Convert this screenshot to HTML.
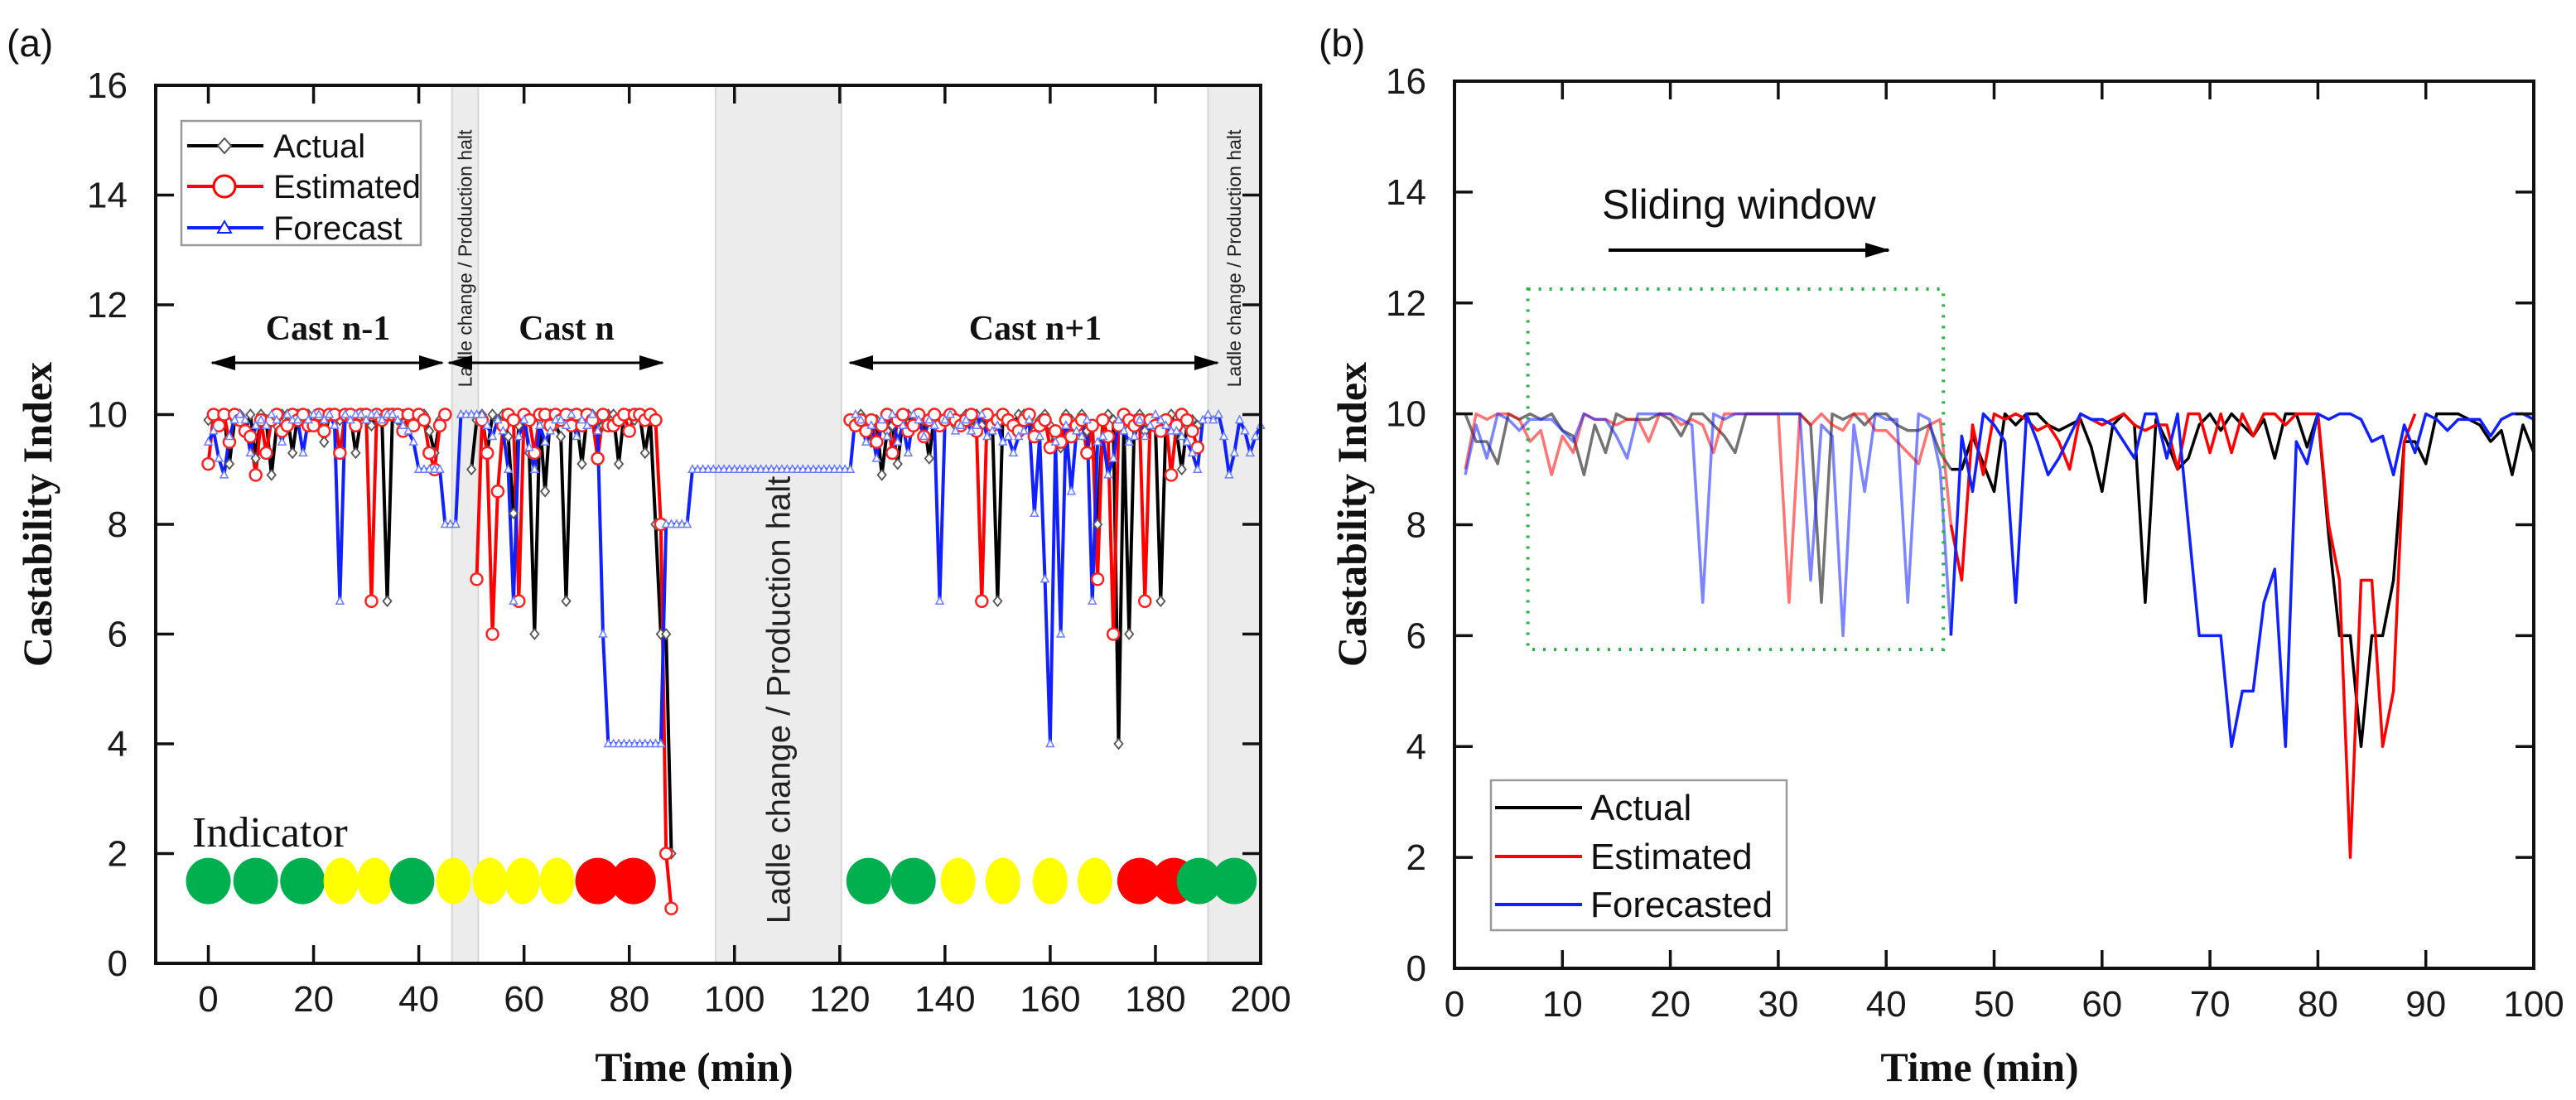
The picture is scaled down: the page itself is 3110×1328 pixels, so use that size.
<!DOCTYPE html>
<html><head><meta charset="utf-8"><style>
html,body{margin:0;padding:0;background:#fff;}
svg{display:block;}
text{font-family:"Liberation Sans",Arial,sans-serif;}
.serif{font-family:"Liberation Serif","Times New Roman",serif;}
</style></head><body>
<svg id="chart" xmlns="http://www.w3.org/2000/svg" width="3110" height="1328" viewBox="0 0 3110 1328">
<rect width="3110" height="1328" fill="#fff"/>
<g id="panelA"></g>
<g id="panelB"></g>
</svg>
<script>
// ---------- Panel (a) data ----------
const yTicks = [0,2,4,6,8,10,12,14,16];
const xTicksA = [0,20,40,60,80,100,120,140,160,180,200];
const xTicksB = [0,10,20,30,40,50,60,70,80,90,100];
const actualA1Start = 0;
const actualA1 = [9.9,10,9.8,10,9.1,9.9,10,9.7,10,9.2, 10,9.9,8.9,9.8,10,10,9.3,10,9.9,10, 9.8,10,9.5,10,10,9.9,10,10,9.3,9.9, 10,9.8,10,9.9,6.6,10,9.9,10,10,9.8, 10,10,9.7,9.3,9.9,null,null,null,null,null, 9.0,9.9,10,9.3,10,9.9,10,9.6,8.2,9.8, 10,9.3,6.0,9.9,8.6,10,9.8,9.6,6.6,10, 9.9,9.1,10,10,9.9,9.8,10,10,9.1,10, 10,9.9,10,9.3,9.9,8.0,6.0,6.0,2.0];
const estimatedA1Start = 0;
const estimatedA1 = [9.1,10,9.8,10,9.5,10,9.9,9.7,9.6,8.9, 9.9,9.3,9.9,10,9.7,9.8,10,9.9,10,9.8, 9.8,10,9.7,10,10,9.3,10,10,9.8,10, 10,6.6,10,9.9,10,10,10,9.7,10,9.8, 10,9.9,9.3,9.0,9.8,10,null,null,null,null, null,7.0,9.9,9.3,6.0,8.6,9.8,10,9.9,6.6, 10,9.9,9.3,10,10,9.8,10,9.9,10,9.8, 10,9.8,10,9.9,9.2,10,9.8,9.8,9.9,10, 9.7,10,10,9.9,10,9.9,8.0,2.0,1.0];
const actualA2Start = 122;
const actualA2 = [9.9,9.8,10,9.7,9.5,9.9,8.9,9.7,9.8,9.1, 9.9,10,9.8,10,9.9,9.2,10,9.8,9.9,10, 9.8,9.9,10,9.9,10,9.8,10,9.9,6.6,10, 9.9,9.8,10,10,9.9,9.7,9.9,10,9.8,9.6, 9.4,10,9.9,9.8,10,9.7,9.8,8.0,9.9,10, 9.9,4.0,9.8,6.0,9.9,10,9.7,9.9,9.8,6.6, 9.9,10,9.7,9.0,9.8,9.9,9.8];
const estimatedA2Start = 122;
const estimatedA2 = [9.9,9.8,9.9,9.7,9.9,9.5,9.8,10,9.3,9.9, 10,9.7,9.8,10,9.6,9.9,10,9.8,9.9,10, 9.9,9.8,9.9,10,9.7,6.6,10,9.8,9.9,10, 9.9,9.8,9.7,9.9,10,9.6,9.8,9.9,9.4,9.7, 9.5,9.9,9.6,9.8,9.9,9.3,9.8,7.0,9.9,9.6, 6.0,9.8,10,9.9,9.8,9.9,6.6,9.9,9.8,9.7, 9.9,8.9,9.8,10,9.9,9.7,9.4];
const forecastAStart = 0;
const forecastA = [9.5,9.7,9.2,8.9,9.6,9.9,10,9.9,9.3,9.8, 9.9,9.8,10,9.9,9.5,10,9.9,9.9,9.3,9.9, 10,10,9.9,10,9.8,6.6,10,9.9,10,10, 9.9,10,10,9.9,10,10,9.9,9.8,9.7,9.5, 9,9,9,9,9,8,8,8,10,10, 10,10,10,9.8,9.6,9.9,9.7,9.0,6.6,9.6, 9.9,9.4,9.0,9.8,9.5,9.7,9.9,9.9,9.8,10, 9.6,9.9,9.8,10,9.7,6.0,4,4,4,4, 4,4,4,4,4,4,4,8,8,8, 8,8,9,9,9,9,9,9,9,9, 9,9,9,9,9,9,9,9,9,9, 9,9,9,9,9,9,9,9,9,9, 9,9,9,10,9.9,9.5,9.8,9.2,9.9,9.6, 10,9.5,9.8,9.3,10,9.9,9.6,9.9,9.8,6.6, 9.9,10,9.7,9.8,9.9,9.7,9.8,10,9.6,9.7, 9.8,9.5,9.6,9.3,9.6,9.7,9.9,8.2,9.6,7.0, 4.0,9.5,6.0,9.8,8.6,9.7,9.6,9.9,6.6,9.5, 9.6,8.9,9.2,9.9,9.7,9.5,9.6,9.9,9.6,9.8, 10,9.9,9.8,9.7,9.7,9.6,9.5,9.3,9.0,9.9, 10,9.9,10,9.6,8.9,9.3,9.9,9.7,9.3,9.6,9.8];
const indicatorTimes = [0,9,17.9,25.2,31.6,38.7,46.6,53.5,59.7,66.3,74,80.8, 125.5,134,142.5,151,160,168.5,177,183.5,188.3,195];
const indicatorColors = ["g","g","g","y","y","g","y","y","y","y","r","r", "g","g","y","y","y","y","r","r","g","g"];
const haltBands = [[46.3,51.3],[96.4,120.3],[190,200]];

// ---------- Panel (b) data (t = 1..100) ----------
const actualB = [10,9.5,9.5,9.1,10,9.9,10,9.9,10,9.7, 9.6,8.9,9.8,9.3,10,9.9,9.9,9.9,10,9.9, 9.6,10,10,9.8,9.6,9.3,10,10,10,10, 10,10,9.8,6.6,10,9.9,10,9.8,10,10, 9.8,9.7,9.7,9.8,9.3,9.0,9.0,9.6,9.1,8.6, 10,9.8,10,10,9.8,9.7,9.8,9.9,9.4,8.6, 9.8,10,9.8,6.6,9.9,9.5,9.0,9.2,9.8,10, 9.7,10,9.8,9.6,9.9,9.2,10,10,9.4,10, 7.8,6,6,4,6,6,7,9.5,9.5,9.1, 10,10,10,9.9,9.8,9.5,9.7,8.9,9.8,9.3];
const estimatedB = [9.0,10,9.9,10,10,9.9,9.5,9.7,8.9,9.6, 9.3,10,9.9,9.9,9.8,9.9,9.9,9.5,10,10, 9.8,9.9,9.8,9.3,10,10,10,10,10,10, 6.6,10,9.8,10,9.8,9.7,10,10,9.7,9.7, 9.5,9.3,9.1,9.8,9.9,8.0,7.0,9.8,8.9,10, 9.9,10,9.9,9.7,9.8,9.5,9.0,10,9.9,9.8, 9.9,10,9.8,9.7,9.8,9.8,9.0,10,10,9.3, 10,9.3,10,9.6,10,10,9.8,10,10,10, 8,7,2,7,7,4,5,9.5,10,null, null,null,null,null,null,null,null,null,null,null];
const forecastB = [8.9,9.8,9.2,10,9.9,9.7,9.9,9.9,9.9,9.7, 9.5,10,9.9,9.9,9.6,9.2,10,10,10,10, 9.9,9.8,6.6,10,9.9,10,10,10,10,10, 10,10,7.0,9.8,9.6,6.0,9.8,8.6,10,9.9, 9.9,6.6,10,9.9,9.0,6.0,9.6,8.6,10,9.8, 9.5,6.6,10,9.5,8.9,9.2,9.6,10,9.9,9.9, 9.8,9.5,9.2,10,10,9.2,10,8.0,6,6, 6,4,5,5,6.6,7.2,4,9.5,9.1,10, 9.9,10,10,9.9,9.5,9.6,8.9,9.8,9.3,10, 9.9,9.7,9.9,9.9,9.9,9.6,9.9,10,10,9.9];
const windowEnd = 46;

// ---------- geometry ----------
const NS = "http://www.w3.org/2000/svg";
const A = {x0:188, x1:1522, y0:1163, y1:103, tmin:-10, tmax:200};
const B = {x0:1756, x1:3059, y0:1169, y1:98, tmin:0, tmax:100};
function sx(P,t){return P.x0 + (t-P.tmin)/(P.tmax-P.tmin)*(P.x1-P.x0);}
function sy(P,v){return P.y0 - v/16*(P.y0-P.y1);}
function mk(tag, attrs, parent){const e=document.createElementNS(NS,tag);for(const k in attrs)e.setAttribute(k,attrs[k]);parent.appendChild(e);return e;}
const gA = document.getElementById('panelA');
const gB = document.getElementById('panelB');
const COL = {g:"#00b04f", y:"#ffff00", r:"#ff0000"};

function axes(P, g, xt, label, lx){
  const frame = mk('rect',{x:P.x0,y:P.y1,width:P.x1-P.x0,height:P.y0-P.y1,fill:'none',stroke:'#111','stroke-width':4},g);
  
  
  yTicks.forEach(v=>{
    const y=sy(P,v);
    if(v>0&&v<16){
      const t1=mk('line',{x1:P.x0,x2:P.x0+22,y1:y,y2:y,stroke:'#111','stroke-width':3.5},g);
      
      
      const t2=mk('line',{x1:P.x1,x2:P.x1-22,y1:y,y2:y,stroke:'#111','stroke-width':3.5},g);
      
      
    }
    const tl=mk('text',{x:P.x0-34,y:y+15,'text-anchor':'end','font-size':44,fill:'#1a1a1a'},g);
    tl.textContent=v;
    
    
  });
  xt.forEach(v=>{
    const x=sx(P,v);
    if(v>P.tmin&&v<P.tmax){
      const t1=mk('line',{x1:x,x2:x,y1:P.y0,y2:P.y0-22,stroke:'#111','stroke-width':3.5},g);
      
      
      const t2=mk('line',{x1:x,x2:x,y1:P.y1,y2:P.y1+22,stroke:'#111','stroke-width':3.5},g);
      
      
    }
    const tl=mk('text',{x:x,y:P.y0+58,'text-anchor':'middle','font-size':44,fill:'#1a1a1a'},g);
    tl.textContent=v;
    
    
  });
  const xl=mk('text',{x:lx,y:1305,'text-anchor':'middle','font-size':50,'font-weight':'bold',class:'serif',fill:'#111'},g);
  xl.textContent='Time (min)';
  
  
  const yx = label;
  const yl=mk('text',{x:0,y:0,'text-anchor':'middle','font-size':50,'font-weight':'bold',class:'serif',fill:'#111',transform:`translate(${yx},621) rotate(-90)`},g);
  yl.textContent='Castability Index';
  
  
}

function segs(P, start, vals, from, to){
  const out=[];let cur=[];
  vals.forEach((v,i)=>{
    const t=start+i;
    if(v===null||t<from||t>to){if(cur.length)out.push(cur);cur=[];return;}
    cur.push([sx(P,t),sy(P,v)]);
  });
  if(cur.length)out.push(cur);
  return out;
}
function drawLine(P,g,start,vals,color,w,name,from,to,opacity){
  segs(P,start,vals,from,to).forEach(s=>{
    const p=mk('polyline',{points:s.map(q=>q.join(',')).join(' '),fill:'none',stroke:color,'stroke-width':w,'stroke-linejoin':'round',opacity:opacity},g);
    
    
  });
}
function drawMarkers(P,g,start,vals,kind,name){
  vals.forEach((v,i)=>{
    if(v===null)return;
    const x=sx(P,start+i),y=sy(P,v);let m;
    if(kind==='d')m=mk('path',{d:`M${x},${y-6}L${x+5},${y}L${x},${y+6}L${x-5},${y}Z`,fill:'#fff',stroke:'#555','stroke-width':1.8},g);
    else if(kind==='o')m=mk('circle',{cx:x,cy:y,r:7,fill:'#fff',stroke:'#ff2020','stroke-width':2.5},g);
    else m=mk('path',{d:`M${x},${y-5}L${x+4.5},${y+3.5}L${x-4.5},${y+3.5}Z`,fill:'#fff',stroke:'#6a7dff','stroke-width':1.5},g);
    
    
  });
}

// ---------- Panel A ----------
haltBands.forEach(b=>{
  const r=mk('rect',{x:sx(A,b[0]),y:A.y1,width:sx(A,b[1])-sx(A,b[0]),height:A.y0-A.y1,fill:'#ececec',stroke:'#d6d6d6','stroke-width':2},gA);
  
  
});
function rotText(g,x,y,s,size,name){
  const t=mk('text',{x:0,y:0,'text-anchor':'middle','font-size':size,fill:'#222',transform:`translate(${x},${y}) rotate(-90)`},g);
  t.textContent=s;
  
  
}
rotText(gA,sx(A,48.8)+8,312,'Ladle change / Production halt',23,'halt-label-1');
rotText(gA,sx(A,108.3)+14,845,'Ladle change / Production halt',40,'halt-label-2');
rotText(gA,sx(A,195)+8,312,'Ladle change / Production halt',23,'halt-label-3');

drawLine(A,gA,actualA1Start,actualA1,'#000',4,'actual-line-a',-99,999,1);
drawLine(A,gA,actualA2Start,actualA2,'#000',4,'actual-line-a',-99,999,1);
drawLine(A,gA,estimatedA1Start,estimatedA1,'#ff0000',4,'estimated-line-a',-99,999,1);
drawLine(A,gA,estimatedA2Start,estimatedA2,'#ff0000',4,'estimated-line-a',-99,999,1);
drawLine(A,gA,forecastAStart,forecastA,'#1020ff',4,'forecast-line-a',-99,999,1);
drawMarkers(A,gA,actualA1Start,actualA1,'d','actual-marker');
drawMarkers(A,gA,actualA2Start,actualA2,'d','actual-marker');
drawMarkers(A,gA,estimatedA1Start,estimatedA1,'o','estimated-marker');
drawMarkers(A,gA,estimatedA2Start,estimatedA2,'o','estimated-marker');
drawMarkers(A,gA,forecastAStart,forecastA,'t','forecast-marker');

indicatorTimes.forEach((t,i)=>{
  const c=indicatorColors[i];
  const e=mk('ellipse',{cx:sx(A,t),cy:sy(A,1.5),rx:c==='y'?21:27,ry:28,fill:COL[c]},gA);
  
  
});
const ind=mk('text',{x:232,y:1022,'font-size':52,class:'serif',fill:'#111'},gA);
ind.textContent='Indicator';



mk('defs',{},gA).innerHTML='<marker id="ah2" markerWidth="30" markerHeight="18" refX="28" refY="9" orient="auto-start-reverse" markerUnits="userSpaceOnUse" viewBox="0 0 30 18"><path d="M0,0L30,9L0,18Z" fill="#000"/></marker>';
function castArrow(x1,x2,label,lx){
  const l=mk('line',{x1:x1,x2:x2,y1:438,y2:438,stroke:'#000','stroke-width':3,'marker-start':'url(#ah2)','marker-end':'url(#ah2)'},gA);
  
  
  const t=mk('text',{x:lx,y:410,'text-anchor':'middle','font-size':42,'font-weight':'bold',class:'serif',fill:'#111'},gA);
  t.textContent=label;
  
  
}
castArrow(256,534,'Cast n-1',396);
castArrow(542,800,'Cast n',684);
castArrow(1026,1470,'Cast n+1',1250);

// legend a
const lgA=mk('g',{},gA);


mk('rect',{x:219,y:146,width:289,height:150,fill:'#fff',stroke:'#999','stroke-width':2.5},lgA);
[['Actual','#000','d',176],['Estimated','#ff0000','o',225],['Forecast','#1020ff','t',275]].forEach(e=>{
  const gg=mk('g',{},lgA);
  
  
  mk('line',{x1:226,x2:318,y1:e[3],y2:e[3],stroke:e[1],'stroke-width':4},gg);
  const cx=271,cy=e[3];
  if(e[2]==='d')mk('path',{d:`M${cx},${cy-9}L${cx+8},${cy}L${cx},${cy+9}L${cx-8},${cy}Z`,fill:'#fff',stroke:'#555','stroke-width':2},gg);
  else if(e[2]==='o')mk('circle',{cx:cx,cy:cy,r:13,fill:'#fff',stroke:'#ff0000','stroke-width':3},gg);
  else mk('path',{d:`M${cx},${cy-8}L${cx+8},${cy+6}L${cx-8},${cy+6}Z`,fill:'#fff',stroke:'#1020ff','stroke-width':2},gg);
  const t=mk('text',{x:330,y:e[3]+14,'font-size':40,fill:'#111'},gg);
  t.textContent=e[0];
});

axes(A,gA,xTicksA,62,838);
const la=mk('text',{x:8,y:68,'font-size':46,fill:'#111'},gA);
la.textContent='(a)';



// ---------- Panel B ----------
drawLine(B,gB,1,actualB,'#000',3.5,'actual-line-b-window',0,windowEnd,0.55);
drawLine(B,gB,1,estimatedB,'#ff0000',3.5,'estimated-line-b-window',0,windowEnd,0.55);
drawLine(B,gB,1,forecastB,'#1020ff',3.5,'forecast-line-b-window',0,windowEnd,0.55);
drawLine(B,gB,1,actualB,'#000',3.5,'actual-line-b',windowEnd,999,1);
drawLine(B,gB,1,estimatedB,'#ff0000',3.5,'estimated-line-b',windowEnd,999,1);
drawLine(B,gB,1,forecastB,'#1020ff',3.5,'forecast-line-b',windowEnd,999,1);

const win=mk('rect',{x:sx(B,6.8),y:sy(B,12.25),width:sx(B,45.3)-sx(B,6.8),height:sy(B,5.75)-sy(B,12.25),fill:'none',stroke:'#2ab24a','stroke-width':4,'stroke-dasharray':'3,10'},gB);


const sw=mk('text',{x:1934,y:264,'font-size':50,fill:'#111'},gB);
sw.textContent='Sliding window';


const swa=mk('line',{x1:1942,x2:2280,y1:302,y2:302,stroke:'#000','stroke-width':4,'marker-end':'url(#ah2)'},gB);



const lgB=mk('g',{},gB);


mk('rect',{x:1800,y:942,width:357,height:181,fill:'#fff',stroke:'#999','stroke-width':2.5},lgB);
[['Actual','#000',975],['Estimated','#ff0000',1034],['Forecasted','#1020ff',1092]].forEach(e=>{
  const gg=mk('g',{},lgB);
  
  
  mk('line',{x1:1805,x2:1910,y1:e[2],y2:e[2],stroke:e[1],'stroke-width':4},gg);
  const t=mk('text',{x:1920,y:e[2]+15,'font-size':44,fill:'#111'},gg);
  t.textContent=e[0];
});

axes(B,gB,xTicksB,1649,2390);
const lb=mk('text',{x:1592,y:68,'font-size':46,fill:'#111'},gB);
lb.textContent='(b)';


</script>
</body></html>
